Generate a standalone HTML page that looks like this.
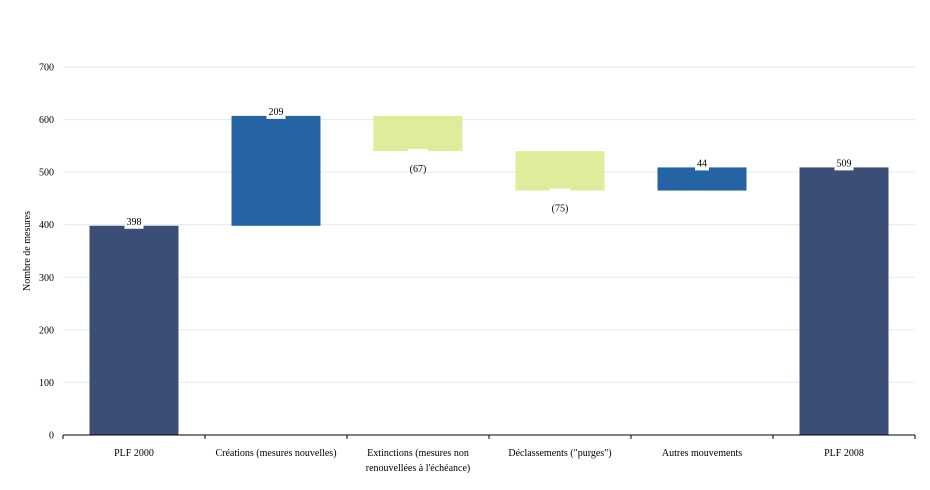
<!DOCTYPE html>
<html><head><meta charset="utf-8"><style>
body{margin:0;background:#fff;}
svg{display:block;font-family:"Liberation Serif",serif;}
</style></head><body>
<svg id="chart" width="930" height="490"></svg>
<script>
const categories=["PLF 2000","Créations (mesures nouvelles)","Extinctions (mesures non|renouvellées à l'échéance)","Déclassements (\"purges\")","Autres mouvements","PLF 2008"];
const deltas=[398,209,-67,-75,44,509];
const kinds=["total","delta","delta","delta","delta","total"];
const yTicks=[0,100,200,300,400,500,600,700];
const NS="http://www.w3.org/2000/svg";
const svg=document.getElementById('chart');
const x0=63,x1=915,y0=435,yTop=67,yMax=700;
const cw=(x1-x0)/categories.length;
function y(v){return y0-(v/yMax)*(y0-yTop);}
function xc(i){return x0+cw*(i+0.5);}
function mk(tag,attrs,parent){const e=document.createElementNS(NS,tag);for(const k in attrs)e.setAttribute(k,attrs[k]);(parent||svg).appendChild(e);return e;}
yTicks.forEach(t=>{
  if(t>0){const g=mk('line',{x1:x0,x2:x1,y1:y(t),y2:y(t),stroke:'#dcebf5','stroke-width':1});
  
  }
  const tx=mk('text',{x:54,y:y(t)+3.5,'text-anchor':'end','font-size':10,fill:'#000'});
  tx.textContent=t;
  
  
});
const yt=mk('text',{x:0,y:0,transform:'translate(30,251) rotate(-90)','text-anchor':'middle','font-size':10});
yt.textContent='Nombre de mesures';


let run=0;
deltas.forEach((d,i)=>{
  let lo,hi,color;
  if(kinds[i]==='total'){lo=0;hi=d;run=d;color='#3b4e75';}
  else{const prev=run;run+=d;lo=Math.min(prev,run);hi=Math.max(prev,run);color=d>=0?'#2464a4':'#deed9b';}
  const bw=89;
  const r=mk('rect',{x:xc(i)-bw/2,y:y(hi),width:bw,height:y(lo)-y(hi),fill:color});
  
  
  const label=d<0?'('+(-d)+')':String(d);
  const lw=label.length*5+4;
  if(d>=0){
    mk('rect',{x:xc(i)-lw/2,y:y(hi)-10,width:lw,height:13,fill:'#fff'});
    const t=mk('text',{x:xc(i),y:y(hi)-1,'text-anchor':'middle','font-size':10});
    t.textContent=label;
    
    
  }else{
    mk('rect',{x:xc(i)-lw/2+2,y:y(lo)-2,width:lw-4,height:3,fill:'#fff'});
    const t=mk('text',{x:xc(i),y:y(lo)+21,'text-anchor':'middle','font-size':10});
    t.textContent=label;
    
    
  }
  const parts=categories[i].split('|');
  parts.forEach((p,k)=>{
    const t=mk('text',{x:xc(i),y:456+k*15,'text-anchor':'middle','font-size':10});
    t.textContent=p;
    
    
  });
});
const ax=mk('line',{x1:x0,x2:x1,y1:y0,y2:y0,stroke:'#000','stroke-width':1});


for(let i=0;i<=categories.length;i++){mk('line',{x1:x0+cw*i,x2:x0+cw*i,y1:y0,y2:y0+4,stroke:'#000'});}
</script>
</body></html>
